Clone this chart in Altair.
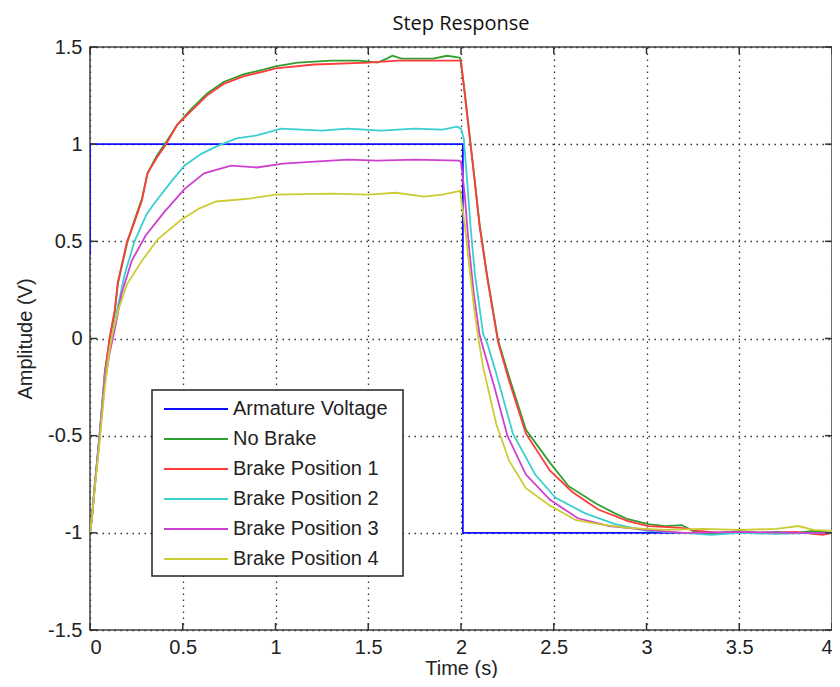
import altair as alt
import pandas as pd

names = ["Armature Voltage", "No Brake", "Brake Position 1", "Brake Position 2",
         "Brake Position 3", "Brake Position 4"]
colors = ["#1010ff", "#2f9e2f", "#ff3b3b", "#3ccfcf", "#d040d0", "#cccc33"]

arm_t = [0, 0, 2.01, 2.01, 4.0]
arm_v = [0.43, 1.0, 1.0, -1.0, -1.0]

nb_t = [0, 0.01, 0.027, 0.053, 0.08, 0.107, 0.134, 0.15, 0.2, 0.24, 0.28, 0.31, 0.36, 0.41,
        0.47, 0.545, 0.63, 0.72, 0.83, 0.94, 1.0, 1.12, 1.3, 1.45, 1.55, 1.6, 1.63, 1.68, 1.75,
        1.85, 1.925, 1.995, 2.02, 2.04, 2.07, 2.1, 2.14, 2.2, 2.26, 2.35, 2.48, 2.58, 2.73, 2.83,
        2.9, 3.01, 3.1, 3.19, 3.25, 3.3, 3.4, 3.5, 3.6, 3.7, 3.8, 3.9, 4.0]
nb_v = [-1.0, -0.93, -0.75, -0.49, -0.18, 0.0, 0.14, 0.28, 0.49, 0.61, 0.72, 0.85, 0.94, 1.01,
        1.10, 1.18, 1.26, 1.32, 1.36, 1.385, 1.40, 1.42, 1.43, 1.43, 1.42, 1.44, 1.455, 1.44, 1.44,
        1.44, 1.455, 1.445, 1.27, 1.10, 0.85, 0.59, 0.33, -0.01, -0.2, -0.47, -0.64, -0.76, -0.85,
        -0.9, -0.93, -0.955, -0.965, -0.96, -0.99, -1.0, -1.0, -0.99, -1.0, -0.995, -1.0, -0.99, -1.0]

b1_t = [0, 0.01, 0.027, 0.053, 0.08, 0.107, 0.134, 0.15, 0.2, 0.24, 0.28, 0.31, 0.36, 0.41,
        0.47, 0.545, 0.63, 0.72, 0.83, 0.94, 1.0, 1.21, 1.5, 1.66, 1.8, 1.98, 2.0, 2.02, 2.04,
        2.07, 2.1, 2.14, 2.2, 2.26, 2.35, 2.48, 2.6, 2.74, 2.9, 3.01, 3.19, 3.28, 3.4, 3.5, 3.6,
        3.7, 3.8, 3.9, 3.95, 4.0]
b1_v = [-1.0, -0.92, -0.74, -0.48, -0.17, 0.01, 0.15, 0.29, 0.5, 0.6, 0.71, 0.85, 0.93, 1.0,
        1.10, 1.17, 1.25, 1.31, 1.35, 1.375, 1.39, 1.41, 1.42, 1.43, 1.43, 1.43, 1.43, 1.26, 1.09,
        0.84, 0.58, 0.32, -0.02, -0.22, -0.49, -0.68, -0.79, -0.88, -0.94, -0.965, -0.975, -0.99,
        -1.0, -0.995, -1.0, -1.0, -0.995, -1.005, -1.01, -1.0]

b2_t = [0, 0.01, 0.027, 0.053, 0.08, 0.107, 0.145, 0.187, 0.24, 0.305, 0.35, 0.44, 0.51, 0.6,
        0.685, 0.79, 0.9, 1.03, 1.25, 1.39, 1.57, 1.75, 1.9, 1.98, 2.0, 2.015, 2.03, 2.05, 2.075,
        2.12, 2.14, 2.19, 2.28, 2.4, 2.51, 2.67, 2.83, 3.0, 3.2, 3.35, 3.5, 3.7, 3.9, 4.0]
b2_v = [-1.0, -0.92, -0.74, -0.48, -0.2, -0.05, 0.14, 0.33, 0.5, 0.64, 0.70, 0.81, 0.89, 0.95,
        0.99, 1.03, 1.045, 1.08, 1.07, 1.08, 1.07, 1.08, 1.075, 1.09, 1.08, 1.03, 0.85, 0.59, 0.33,
        0.02, -0.02, -0.18, -0.49, -0.70, -0.82, -0.90, -0.955, -0.99, -1.0, -1.01, -1.0, -1.005,
        -1.0, -1.0]

b3_t = [0, 0.01, 0.027, 0.053, 0.08, 0.107, 0.134, 0.17, 0.225, 0.3, 0.4, 0.51, 0.615, 0.76,
        0.9, 1.04, 1.21, 1.39, 1.55, 1.75, 1.99, 2.0, 2.02, 2.04, 2.07, 2.1, 2.12, 2.18, 2.25,
        2.35, 2.48, 2.63, 2.8, 3.0, 3.2, 3.5, 3.8, 4.0]
b3_v = [-1.0, -0.93, -0.75, -0.5, -0.22, -0.07, 0.05, 0.23, 0.40, 0.53, 0.65, 0.77, 0.85, 0.89,
        0.88, 0.90, 0.91, 0.92, 0.915, 0.92, 0.915, 0.91, 0.74, 0.5, 0.22, 0.02, -0.05, -0.25,
        -0.5, -0.70, -0.83, -0.925, -0.965, -0.985, -1.0, -0.995, -1.0, -1.0]

b4_t = [0, 0.01, 0.027, 0.053, 0.08, 0.107, 0.12, 0.15, 0.2, 0.28, 0.365, 0.49, 0.59, 0.68,
        0.86, 1.0, 1.3, 1.5, 1.65, 1.8, 1.9, 1.995, 2.02, 2.04, 2.07, 2.095, 2.12, 2.19, 2.26,
        2.35, 2.48, 2.62, 2.76, 2.9, 3.1, 3.3, 3.5, 3.7, 3.82, 3.9, 4.0]
b4_v = [-1.0, -0.93, -0.76, -0.52, -0.25, -0.05, 0.02, 0.14, 0.28, 0.40, 0.51, 0.61, 0.67,
        0.705, 0.72, 0.74, 0.745, 0.74, 0.75, 0.73, 0.74, 0.76, 0.59, 0.41, 0.16, -0.01, -0.15,
        -0.44, -0.63, -0.77, -0.86, -0.935, -0.958, -0.975, -0.985, -0.98, -0.985, -0.98, -0.965,
        -0.985, -0.99]

x_ticks = [0, 0.5, 1, 1.5, 2, 2.5, 3, 3.5, 4]
y_ticks = [-1.5, -1, -0.5, 0, 0.5, 1, 1.5]

series = [(names[0], arm_t, arm_v), (names[1], nb_t, nb_v), (names[2], b1_t, b1_v),
          (names[3], b2_t, b2_v), (names[4], b3_t, b3_v), (names[5], b4_t, b4_v)]
rows = []
for name, ts, vs in series:
    for i, (t, v) in enumerate(zip(ts, vs)):
        rows.append({"series": name, "t": t, "v": v, "i": i})
df = pd.DataFrame(rows)

W, H = 742, 583
xscale = alt.Scale(domain=[0, 4], nice=False, zero=False)
yscale = alt.Scale(domain=[-1.5, 1.5], nice=False, zero=False)
font = "Liberation Sans"

lines = alt.Chart(df).mark_line(strokeWidth=1.8, clip=True).encode(
    x=alt.X("t:Q", scale=xscale,
            axis=alt.Axis(values=x_ticks, labelExpr="'' + datum.value", title="Time (s)",
                          grid=True, ticks=False, domain=False, labelPadding=7,
                          titleY=44, titleBaseline="alphabetic")),
    y=alt.Y("v:Q", scale=yscale,
            axis=alt.Axis(values=y_ticks, labelExpr="'' + datum.value", title="Amplitude (V)",
                          grid=True, ticks=False, domain=False, labelPadding=8,
                          titleX=-65, titleY=H / 2, titleBaseline="middle")),
    color=alt.Color("series:N", scale=alt.Scale(domain=names, range=colors), legend=None),
    detail="series:N",
    order=alt.Order("i:Q"),
)

xt = pd.DataFrame({"t": x_ticks})
yt = pd.DataFrame({"v": y_ticks})
tick_style = dict(color="#333333", strokeWidth=1.5)
xt_bot = alt.Chart(xt).mark_rule(**tick_style).encode(x="t:Q", y=alt.value(H), y2=alt.value(H - 7))
xt_top = alt.Chart(xt).mark_rule(**tick_style).encode(x="t:Q", y=alt.value(0), y2=alt.value(7))
yt_l = alt.Chart(yt).mark_rule(**tick_style).encode(y="v:Q", x=alt.value(0), x2=alt.value(7))
yt_r = alt.Chart(yt).mark_rule(**tick_style).encode(y="v:Q", x=alt.value(W), x2=alt.value(W - 7))

leg = pd.DataFrame({"name": names, "color": colors, "k": list(range(len(names)))})
leg_box = alt.Chart(pd.DataFrame({"a": [0]})).mark_rect(
    fill="white", stroke="#222222", strokeWidth=1.5
).encode(x=alt.value(62), x2=alt.value(313), y=alt.value(343), y2=alt.value(529))
leg_base = alt.Chart(leg).transform_calculate(ypix="362 + 30 * datum.k")
leg_lines = leg_base.mark_rule(strokeWidth=2).encode(
    x=alt.value(74), x2=alt.value(138),
    y=alt.Y("ypix:Q", scale=None, axis=None),
    color=alt.Color("color:N", scale=None, legend=None),
)
leg_text = leg_base.mark_text(align="left", baseline="middle", font=font, fontSize=20,
                              color="#222222").encode(
    x=alt.value(143), y=alt.Y("ypix:Q", scale=None, axis=None), text="name:N"
)

chart = alt.layer(lines, xt_bot, xt_top, yt_l, yt_r, leg_box, leg_lines, leg_text).properties(
    width=W, height=H,
    title=alt.TitleParams("Step Response", font="Open Sans", fontSize=20, fontWeight="normal",
                          color="#111111", offset=3),
    autosize=alt.AutoSizeParams(type="none"),
    padding={"left": 82, "top": 39, "right": 0, "bottom": 48},
    background="white",
).configure_view(stroke="#444444", strokeWidth=1.5).configure_axis(
    labelFont=font, labelFontSize=20, labelColor="#222222",
    titleFont=font, titleFontSize=20, titleFontWeight="normal", titleColor="#222222",
    gridColor="#333333", gridDash=[1.5, 4.5], gridWidth=1.3, gridOpacity=1,
)

chart.save("out.html", embed_options={"renderer": "svg", "actions": False})
